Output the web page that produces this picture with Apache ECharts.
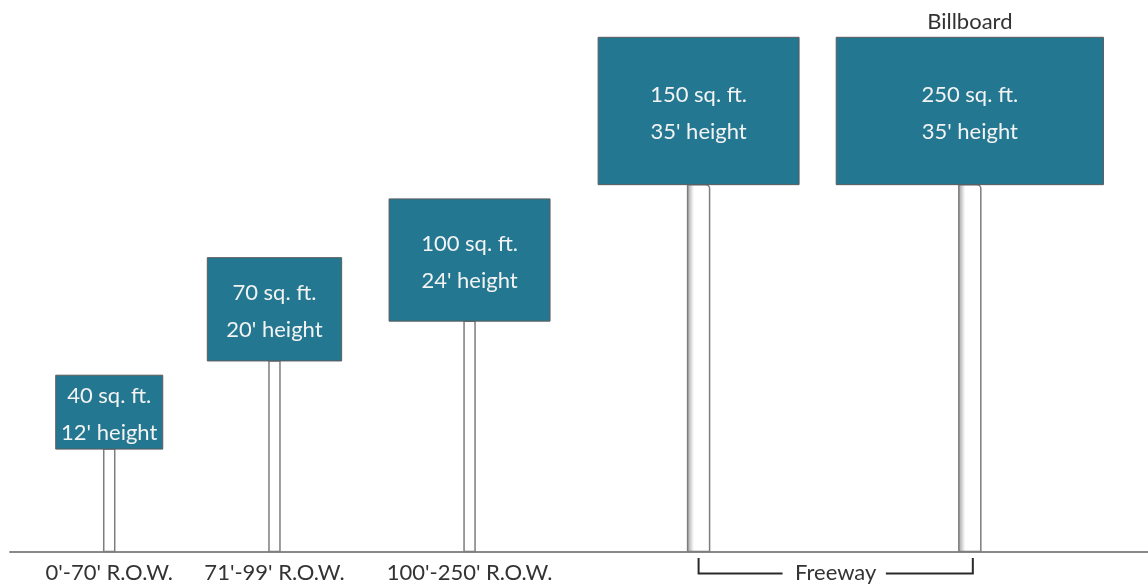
<!DOCTYPE html>
<html><head><meta charset="utf-8">
<script src="https://cdn.jsdelivr.net/npm/echarts@6/dist/echarts.min.js"></script>
<style>html,body{margin:0;padding:0;background:#fff}#c{width:1148px;height:587px}</style>
</head><body><div id="c"></div>
<script>
// ---- data (feet) ----
const categories = ["0'-70' R.O.W.", "71'-99' R.O.W.", "100'-250' R.O.W.", "Freeway", "Freeway"];
const areas = [40, 70, 100, 150, 250];            // sq. ft.
const heights = [12, 20, 24, 35, 35];             // ft, top of sign
const signTypes = ["", "", "", "", "Billboard"];
const stations = [6.75, 17.99, 31.26, 46.84, 65.29]; // ft along ground (pole centre)
const faceWidths = [7.28, 9.14, 10.95, 13.67, 18.18]; // ft
const faceDepths = [5.03, 7.03, 8.32, 10.03, 10.03];  // ft
const poleTypes = ["single", "single", "single", "heavy", "heavy"];

const FONT = 'Lato';
const chart = echarts.init(document.getElementById('c'));

// contiguous runs of categories
const runs = [];
categories.forEach((c, i) => {
  const last = runs[runs.length - 1];
  if (last && last.name === c) { last.end = i; } else { runs.push({ name: c, start: i, end: i }); }
});

const mctx = document.createElement('canvas').getContext('2d');
function textWidth(t, size) { mctx.font = size + 'px ' + FONT; return mctx.measureText(t).width; }

function renderSign(params, api) {
  const i = api.value(5);
  const x = api.value(0), h = api.value(1), w = api.value(2), d = api.value(3);
  const tl = api.coord([x - w / 2, h]);
  const br = api.coord([x + w / 2, h - d]);
  const g = api.coord([x, 0]);
  const heavy = poleTypes[i] === 'heavy';
  const pw = heavy ? 22 : 11;
  const cx = (tl[0] + br[0]) / 2;
  const children = [];
  children.push({
    type: 'rect',
    shape: { x: g[0] - pw / 2, y: br[1], width: pw, height: g[1] - br[1], r: heavy ? [0, 4, 0, 0] : 0 },
    style: {
      fill: heavy ? new echarts.graphic.LinearGradient(0, 0, 1, 0, [
        { offset: 0, color: '#9c9c9c' }, { offset: 0.3, color: '#ffffff' }, { offset: 1, color: '#ffffff' }
      ]) : '#ffffff',
      stroke: '#7d7d7d', lineWidth: 1.5
    }
  });
  children.push({
    type: 'rect',
    shape: { x: tl[0], y: tl[1], width: br[0] - tl[0], height: br[1] - tl[1] },
    style: { fill: '#237791', stroke: '#5c5c5c', lineWidth: 1 }
  });
  children.push({
    type: 'text',
    style: {
      text: areas[i] + ' sq. ft.\n' + heights[i] + "' height",
      x: cx, y: (tl[1] + br[1]) / 2 + 2.5, align: 'center', verticalAlign: 'middle',
      fill: '#f3f3f3', fontFamily: FONT, fontSize: 22, lineHeight: 37
    }
  });
  if (signTypes[i]) {
    children.push({
      type: 'text',
      style: {
        text: signTypes[i], x: cx, y: tl[1] - 15, align: 'center', verticalAlign: 'middle',
        fill: '#333333', fontFamily: FONT, fontSize: 22
      }
    });
  }
  return { type: 'group', children };
}

function renderRun(params, api) {
  const r = runs[api.value(2)];
  const a = api.coord([api.value(0), 0]);
  const b = api.coord([api.value(1), 0]);
  const gy = a[1];
  const ty = gy + 21;
  const children = [];
  const mid = (a[0] + b[0]) / 2;
  if (r.start === r.end) {
    children.push({ type: 'text', style: { text: r.name, x: mid, y: ty, align: 'center', verticalAlign: 'middle', fill: '#333333', fontFamily: FONT, fontSize: 22 } });
  } else {
    const tw = textWidth(r.name, 22);
    const gap = 11;
    const by = gy + 22;
    children.push({ type: 'polyline', shape: { points: [[a[0], gy + 6.5], [a[0], by], [mid - tw / 2 - gap, by]] }, style: { stroke: '#2a2a2a', lineWidth: 2, fill: null } });
    children.push({ type: 'polyline', shape: { points: [[mid + tw / 2 + gap, by], [b[0] + 3, by], [b[0] + 3, gy + 6.5]] }, style: { stroke: '#2a2a2a', lineWidth: 2, fill: null } });
    children.push({ type: 'text', style: { text: r.name, x: mid + 1.5, y: ty, align: 'center', verticalAlign: 'middle', fill: '#333333', fontFamily: FONT, fontSize: 22 } });
  }
  return { type: 'group', children };
}

chart.setOption({
  animation: false,
  grid: { left: 10, right: 0, top: 37.3, bottom: 35.5, containLabel: false },
  xAxis: {
    type: 'value', min: 0, max: 77.41,
    axisLine: { show: true, lineStyle: { color: '#8a8a8a', width: 2 } },
    axisTick: { show: false }, axisLabel: { show: false }, splitLine: { show: false }
  },
  yAxis: { type: 'value', min: 0, max: 35, show: false, splitLine: { show: false } },
  series: [
    {
      type: 'custom', renderItem: renderSign, clip: false, z: 2,
      encode: { x: 0, y: 1 },
      data: stations.map((x, i) => [x, heights[i], faceWidths[i], faceDepths[i], areas[i], i])
    },
    {
      type: 'custom', renderItem: renderRun, clip: false, z: 3,
      encode: { x: [0, 1], y: 3 },
      data: runs.map((r, k) => [stations[r.start], stations[r.end], k, 0])
    }
  ]
});
</script></body></html>
